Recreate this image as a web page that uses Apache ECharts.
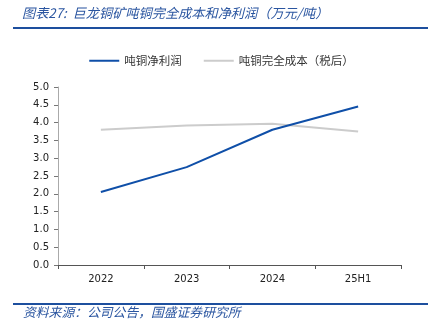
<!DOCTYPE html>
<html>
<head>
<meta charset="utf-8">
<script src="https://cdn.jsdelivr.net/npm/echarts@6/dist/echarts.min.js"></script>
<style>
  html, body { margin: 0; padding: 0; background: #fff; }
  #chart { width: 443px; height: 333px; }
</style>
</head>
<body>
<div id="chart"></div>
<script>
// Categories and series values (万元/吨)
const categories = ['2022', '2023', '2024', '25H1'];
const netProfit = [2.05, 2.75, 3.80, 4.45];
const fullCost = [3.80, 3.92, 3.97, 3.75];
const seriesNames = ['吨铜净利润', '吨铜完全成本（税后）'];
const titleText = '图表27:  巨龙铜矿吨铜完全成本和净利润（万元/吨）';
const sourceText = '资料来源：公司公告，国盛证券研究所';

const BLUE = '#0f4fa8';
const GRAY = '#cccccc';
const HEAD = '#2a55a0';
const CJK = '"Noto Sans CJK SC", sans-serif';
const NUM = '"DejaVu Sans", sans-serif';

const chart = echarts.init(document.getElementById('chart'));
chart.setOption({
  animation: false,
  backgroundColor: '#ffffff',
  grid: { left: 58, right: 42, top: 87, bottom: 68, containLabel: false },
  legend: {
    top: 50,
    left: 'center',
    itemWidth: 30,
    itemHeight: 2,
    itemGap: 22,
    textStyle: { fontFamily: CJK, fontSize: 11.5, color: '#333' },
    data: seriesNames.map((n, i) => ({ name: n, icon: 'rect', itemStyle: { color: i === 0 ? BLUE : GRAY } }))
  },
  xAxis: {
    type: 'category',
    data: categories,
    boundaryGap: true,
    axisLine: { lineStyle: { color: '#555', width: 1 } },
    axisTick: { show: true, length: 4, lineStyle: { color: '#555' } },
    axisLabel: { fontFamily: NUM, fontSize: 10, color: '#222', margin: 9 }
  },
  yAxis: {
    type: 'value',
    min: 0,
    max: 5,
    interval: 0.5,
    axisLine: { show: true, lineStyle: { color: '#aaa', width: 1 } },
    axisTick: { show: true, length: 4, lineStyle: { color: '#777' } },
    splitLine: { show: false },
    axisLabel: { fontFamily: NUM, fontSize: 10, color: '#222', margin: 9, formatter: v => v.toFixed(1) }
  },
  series: [
    {
      name: seriesNames[0],
      type: 'line',
      data: netProfit,
      symbol: 'none',
      lineStyle: { color: BLUE, width: 2 },
      itemStyle: { color: BLUE },
      z: 3
    },
    {
      name: seriesNames[1],
      type: 'line',
      data: fullCost,
      symbol: 'none',
      lineStyle: { color: GRAY, width: 2 },
      itemStyle: { color: GRAY },
      z: 2
    }
  ],
  graphic: [
    {
      type: 'text', left: 22, top: 6,
      style: { text: titleText, font: 'italic 13.2px ' + CJK, fill: HEAD }
    },
    {
      type: 'rect', shape: { x: 13, y: 27, width: 415, height: 2 },
      style: { fill: '#1d4f9e' }
    },
    {
      type: 'rect', shape: { x: 13, y: 303, width: 415, height: 2 },
      style: { fill: '#1d4f9e' }
    },
    {
      type: 'text', left: 23, top: 306,
      style: { text: sourceText, font: 'italic 12.8px ' + CJK, fill: HEAD }
    }
  ]
});
</script>
</body>
</html>
